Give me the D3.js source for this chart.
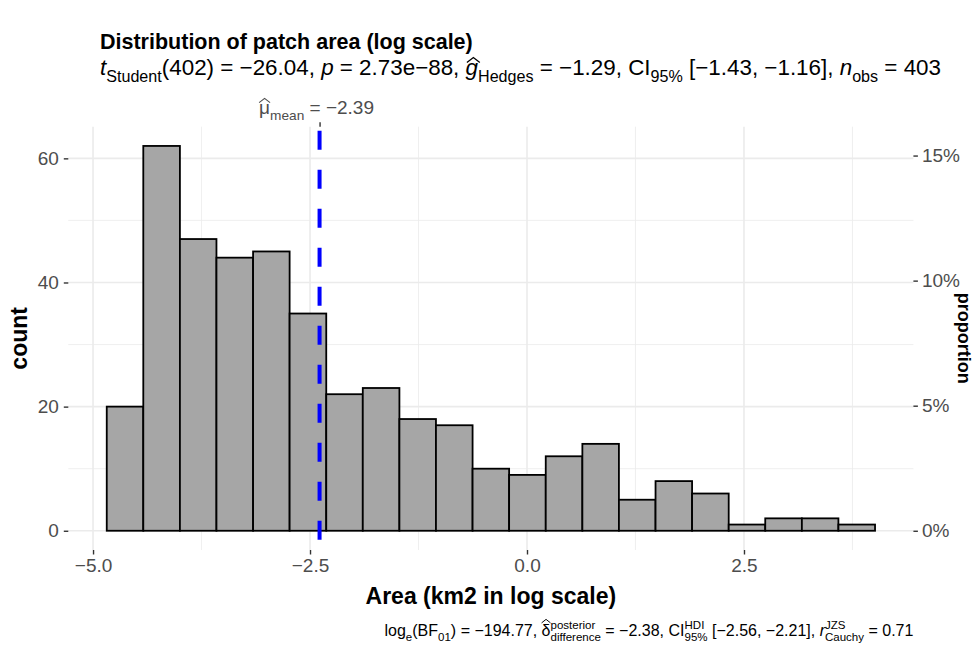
<!DOCTYPE html>
<html>
<head>
<meta charset="utf-8">
<script src="https://cdn.jsdelivr.net/npm/d3@7"></script>
<style>
  body { margin: 0; background: #fff; }
  svg text { font-family: "Liberation Sans", Arial, Helvetica, sans-serif; }
</style>
</head>
<body>
<div id="chart"></div>
<script>
// bin edges and counts
const binEdges = [-4.842, -4.421, -3.999, -3.578, -3.156, -2.735, -2.313, -1.892, -1.470, -1.049,
                  -0.627, -0.206, 0.216, 0.638, 1.059, 1.481, 1.902, 2.324, 2.745, 3.167, 3.588, 4.010];
const counts = [20, 62, 47, 44, 45, 35, 22, 23, 18, 17, 10, 9, 12, 14, 5, 8, 6, 1, 2, 2, 1];
const nObs = 403;
const meanValue = -2.39;
const xTicks = [-5, -2.5, 0, 2.5];
const xMinor = [-3.75, -1.25, 1.25, 3.75];
const yTicks = [0, 20, 40, 60];
const yMinor = [10, 30, 50];
const propTicks = [0, 0.05, 0.10, 0.15];

const W = 979, H = 648;
const panel = {left: 68.3, right: 913.4, top: 126.7, bottom: 550};

const svg = d3.select("#chart").append("svg")
  .attr("width", W).attr("height", H);

const xScale = d3.scaleLinear().domain([-5.285, 4.452]).range([panel.left, panel.right]);
const yScale = d3.scaleLinear().domain([-3.1, 65.1]).range([panel.bottom, panel.top]);

// grid
const grid = svg.append("g");
grid.selectAll(".xmin").data(xMinor).enter().append("line")
  .attr("x1", d => xScale(d)).attr("x2", d => xScale(d))
  .attr("y1", panel.top).attr("y2", panel.bottom)
  .attr("stroke", "#ebebeb").attr("stroke-width", 0.8);
grid.selectAll(".ymin").data(yMinor).enter().append("line")
  .attr("y1", d => yScale(d)).attr("y2", d => yScale(d))
  .attr("x1", panel.left).attr("x2", panel.right)
  .attr("stroke", "#ebebeb").attr("stroke-width", 0.8);
grid.selectAll(".xmaj").data(xTicks).enter().append("line")
  .attr("x1", d => xScale(d)).attr("x2", d => xScale(d))
  .attr("y1", panel.top).attr("y2", panel.bottom)
  .attr("stroke", "#ebebeb").attr("stroke-width", 1.6);
grid.selectAll(".ymaj").data(yTicks).enter().append("line")
  .attr("y1", d => yScale(d)).attr("y2", d => yScale(d))
  .attr("x1", panel.left).attr("x2", panel.right)
  .attr("stroke", "#ebebeb").attr("stroke-width", 1.6);

// bars
svg.append("g").selectAll("rect").data(counts).enter().append("rect")
  .attr("x", (d, i) => xScale(binEdges[i]))
  .attr("width", (d, i) => xScale(binEdges[i + 1]) - xScale(binEdges[i]))
  .attr("y", d => yScale(d))
  .attr("height", d => yScale(0) - yScale(d))
  .attr("fill", "#a6a6a6")
  .attr("stroke", "#000").attr("stroke-width", 1.8);

// mean line
svg.append("line")
  .attr("x1", xScale(meanValue)).attr("x2", xScale(meanValue))
  .attr("y1", panel.top).attr("y2", panel.bottom)
  .attr("stroke", "#0000ff").attr("stroke-width", 4)
  .attr("stroke-dasharray", "19,20").attr("stroke-dashoffset", -4);

// axes
const tickCol = "#333", labCol = "#4d4d4d", tickFs = 19;
const xAxis = d3.axisBottom(xScale).tickValues(xTicks).tickSize(4.5).tickPadding(4);
const gx = svg.append("g").attr("transform", `translate(0,${panel.bottom})`).call(xAxis);
const yAxis = d3.axisLeft(yScale).tickValues(yTicks).tickSize(4.5).tickPadding(5);
const gy = svg.append("g").attr("transform", `translate(${panel.left},0)`).call(yAxis);
const yProp = d3.scaleLinear().domain(yScale.domain().map(v => v / nObs)).range(yScale.range());
const yAxisR = d3.axisRight(yProp).tickValues(propTicks).tickFormat(d3.format(".0%")).tickSize(4.5).tickPadding(4);
const gr = svg.append("g").attr("transform", `translate(${panel.right},0)`).call(yAxisR);
const xTop = d3.axisTop(xScale).tickValues([meanValue]).tickFormat("").tickSize(4.5);
const gt = svg.append("g").attr("transform", `translate(0,${panel.top})`).call(xTop);

[gx, gy, gr, gt].forEach(g => {
  g.select(".domain").remove();
  g.selectAll(".tick line").attr("stroke", tickCol).attr("stroke-width", 1.4);
  g.selectAll(".tick text").attr("fill", labCol).attr("font-size", tickFs)
    .style("font-family", '"Liberation Sans", Arial, sans-serif');
});
gx.selectAll(".tick text").text(d => d3.format(".1f")(d).replace("-", "\u2212"));

// axis titles
svg.append("text").attr("x", (panel.left + panel.right) / 2).attr("y", 604)
  .attr("text-anchor", "middle").attr("font-size", 23).attr("font-weight", "bold")
  .text("Area (km2 in log scale)");
svg.append("text").attr("transform", `translate(27,${(panel.top + panel.bottom) / 2}) rotate(-90)`)
  .attr("text-anchor", "middle").attr("font-size", 23).attr("font-weight", "bold")
  .text("count");
svg.append("text").attr("transform", `translate(958,${(panel.top + panel.bottom) / 2}) rotate(90)`)
  .attr("text-anchor", "middle").attr("font-size", 18).attr("font-weight", "bold")
  .text("proportion");

// title
svg.append("text").attr("x", 100).attr("y", 49)
  .attr("font-size", 21.5).attr("font-weight", "bold")
  .text("Distribution of patch area (log scale)");

// rich text layout: pieces placed left to right
function rich(g, segs, fs, color) {
  let x = 0;
  const small = fs * 0.72;
  function put(t, xx, yy, size, italic) {
    return g.append("text").attr("x", xx).attr("y", yy)
      .attr("font-size", size).attr("fill", color)
      .attr("font-style", italic ? "italic" : "normal")
      .attr("xml:space", "preserve").text(t);
  }
  segs.forEach(s => {
    if (s.stack) {
      const a = put(s.sup, x, -fs * 0.42, small, false);
      const b = put(s.sub, x, fs * 0.32, small, false);
      x += Math.max(a.node().getComputedTextLength(), b.node().getComputedTextLength());
    } else {
      const size = s.sub ? small : fs;
      const el = put(s.t, x, s.sub ? fs * 0.3 : 0, size, s.it);
      const w = el.node().getComputedTextLength();
      if (s.hat) {
        const top = -fs * (s.hatTop || 0.6);
        const hh = fs * 0.22;
        const x0 = x + (s.it ? fs * 0.06 : 0), x1 = x + w + (s.it ? fs * 0.08 : 0);
        g.append("path")
          .attr("d", `M${x0},${top} L${(x0 + x1) / 2},${top - hh} L${x1},${top}`)
          .attr("fill", "none").attr("stroke", color).attr("stroke-width", fs * 0.06);
      }
      x += w;
    }
  });
  return x;
}

// subtitle
const sub = svg.append("g").attr("transform", "translate(100,75)");
rich(sub, [
  {t: "t", it: true}, {t: "Student", sub: true}, {t: "(402) = \u221226.04, "},
  {t: "p", it: true}, {t: " = 2.73e\u221288, "},
  {t: "g", it: true, hat: true, hatTop: 0.56}, {t: "Hedges", sub: true}, {t: " = \u22121.29, CI"},
  {t: "95%", sub: true}, {t: " [\u22121.43, \u22121.16], "},
  {t: "n", it: true}, {t: "obs", sub: true}, {t: " = 403"}
], 22.4, "#000");

// mean label
const ml = svg.append("g");
const mlw = rich(ml, [
  {t: "\u03bc", hat: true, hatTop: 0.6}, {t: "mean", sub: true}, {t: " = \u22122.39"}
], 19, labCol);
ml.attr("transform", `translate(${xScale(meanValue) - mlw / 2 - 3},114)`);

// caption
const cap = svg.append("g");
const cw = rich(cap, [
  {t: "log"}, {t: "e", sub: true}, {t: "(BF"}, {t: "01", sub: true}, {t: ") = \u2212194.77, "},
  {t: "\u03b4", hat: true, hatTop: 0.82}, {stack: true, sup: "posterior", sub: "difference"},
  {t: " = \u22122.38, CI"}, {stack: true, sup: "HDI", sub: "95%"}, {t: " [\u22122.56, \u22122.21], "},
  {t: "r", it: true}, {stack: true, sup: "JZS", sub: "Cauchy"}, {t: " = 0.71"}
], 16, "#000");
cap.attr("transform", `translate(${panel.right - cw},636)`);
</script>
</body>
</html>
